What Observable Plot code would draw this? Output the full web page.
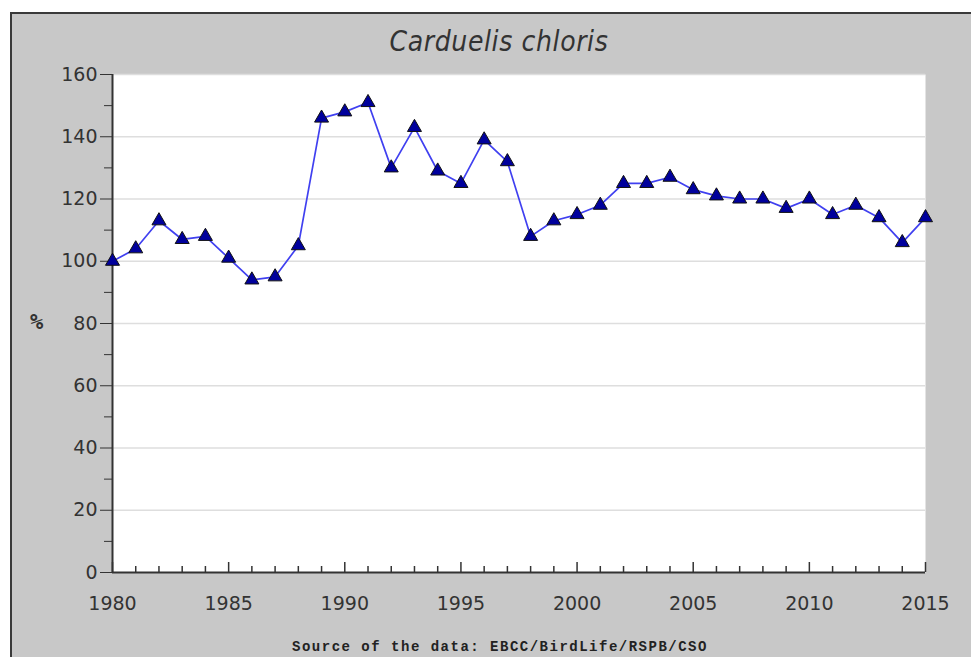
<!DOCTYPE html>
<html><head><meta charset="utf-8">
<script src="https://cdn.jsdelivr.net/npm/d3@7"></script>
<script src="https://cdn.jsdelivr.net/npm/@observablehq/plot@0.6"></script>
<style>
html,body{margin:0;padding:0;background:#fff;overflow:hidden;}
#wrap{position:relative;width:971px;height:657px;}
#frame{position:absolute;left:10px;top:12px;right:0;bottom:0;background:#c8c8c8;border-left:2px solid #3a3a3a;border-top:2px solid #3a3a3a;}
#chart{position:absolute;left:0;top:0;}
#title{position:absolute;left:0;width:998px;top:25px;text-align:center;font-family:"DejaVu Sans Condensed","DejaVu Sans",sans-serif;font-stretch:condensed;font-style:italic;font-size:28px;letter-spacing:0.6px;color:#333;}
#ylab{position:absolute;left:30px;top:309px;font-family:"DejaVu Sans Mono",monospace;font-weight:bold;font-size:22px;color:#333;}
#source{position:absolute;left:0;width:1000px;top:639px;text-align:center;font-family:"Liberation Mono","DejaVu Sans Mono",monospace;font-weight:bold;font-size:14px;letter-spacing:1.5px;color:#222;}
</style></head>
<body>
<div id="wrap">
<div id="frame"></div>
<div id="chart"></div>
<div id="title">Carduelis chloris</div>
<div id="ylab">%</div>
<div id="source">Source of the data: EBCC/BirdLife/RSPB/CSO</div>
</div>
<script>
const years = [1980,1981,1982,1983,1984,1985,1986,1987,1988,1989,1990,1991,1992,1993,1994,1995,1996,1997,1998,1999,2000,2001,2002,2003,2004,2005,2006,2007,2008,2009,2010,2011,2012,2013,2014,2015];
const values = [100,104,113,107,108,101,94,95,105,146,148,151,130,143,129,125,139,132,108,113,115,118,125,125,127,123,121,120,120,117,120,115,118,114,106,114];
const yMajorTicks = [0,20,40,60,80,100,120,140,160];
const yMinorTicks = [10,30,50,70,90,110,130,150];
const xLabelTicks = [1980,1985,1990,1995,2000,2005,2010,2015];

const data = years.map((y,i)=>({year:y, value:values[i]}));
const xMajor = years.filter(y => xLabelTicks.includes(y));
const xMinor = years.filter(y => !xLabelTicks.includes(y));

const chart = Plot.plot({
  width:971, height:657,
  marginLeft:112, marginRight:46, marginTop:74, marginBottom:85,
  style:{background:"transparent", fontFamily:"DejaVu Sans, sans-serif", fontSize:"19px", color:"#333"},
  x:{domain:[1980,2015]},
  y:{domain:[0,160]},
  marks:[
    Plot.frame({fill:"white", stroke:null}),
    Plot.ruleY(yMajorTicks.filter(d=>d>0), {stroke:"#dedede", strokeWidth:1.5}),
    Plot.axisY(yMajorTicks, {tickSize:12, tickPadding:3, fontSize:19, stroke:"#333", fill:"#333", label:null}),
    Plot.axisY(yMinorTicks, {tickSize:8, tickFormat:()=>"", stroke:"#333", label:null}),
    Plot.axisX(xLabelTicks, {tickSize:0, tickPadding:24, fontSize:19, fill:"#333", tickFormat:d=>String(d), label:null}),
    Plot.ruleX(xMinor, {y1:0, y2:0, insetTop:-6, stroke:"#333", strokeWidth:1.5}),
    Plot.ruleX(xMajor, {y1:0, y2:0, insetTop:-10, stroke:"#333", strokeWidth:1.5}),
    Plot.ruleX([1980], {y1:0, y2:160, stroke:"#333", strokeWidth:2}),
    Plot.ruleY([0], {x1:1980, x2:2015, stroke:"#333", strokeWidth:2}),
    Plot.line(data, {x:"year", y:"value", stroke:"#4040f0", strokeWidth:1.7}),
    Plot.dot(data, {x:"year", y:"value", symbol:"triangle", r:5.2, fill:"#00009c", stroke:"#111", strokeWidth:1})
  ]
});
document.getElementById("chart").appendChild(chart);
</script>
</body></html>
